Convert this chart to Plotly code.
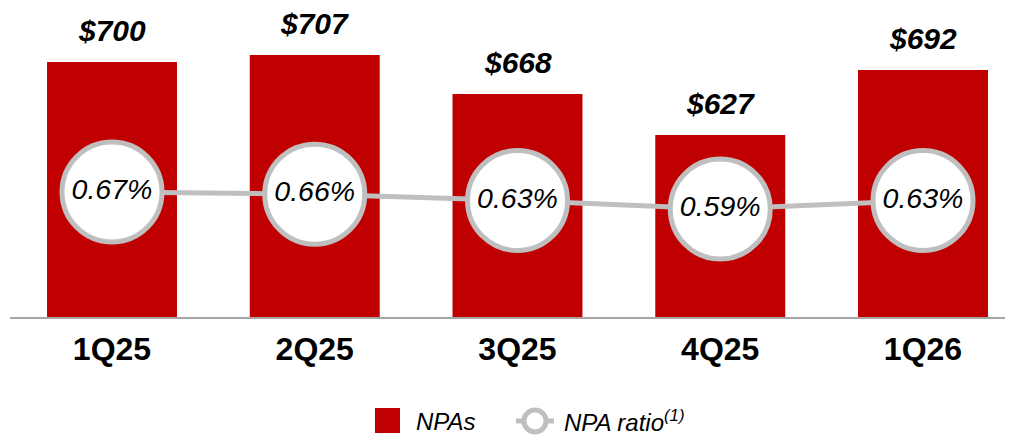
import plotly.graph_objects as go

quarters = ["1Q25", "2Q25", "3Q25", "4Q25", "1Q26"]
npas = [700, 707, 668, 627, 692]
npa_ratio = [0.67, 0.66, 0.63, 0.59, 0.63]

RED = "#C00000"
GREY = "#BFBFBF"
FONT = "Arial, Liberation Sans, sans-serif"

# the page puts the figure 8px in from the top-left corner
OFF = 8
W, H = 1013, 435
L, R, T = 10 - OFF, 0, 10 - OFF
B = H - (317 - OFF)
pw, ph = W - L - R, H - T - B


def px(x):
    return (x - OFF - L) / pw


def py(y):
    return (H - B - (y - OFF)) / ph


fig = go.Figure()

fig.add_bar(
    x=quarters,
    y=npas,
    name="NPAs",
    marker=dict(color=RED, line=dict(width=0)),
    showlegend=False,
)

fig.add_scatter(
    x=quarters,
    y=npa_ratio,
    yaxis="y2",
    name="NPA ratio",
    mode="lines+markers+text",
    line=dict(color=GREY, width=5),
    marker=dict(size=100, color="white", line=dict(color=GREY, width=5)),
    text=[f"{v:.2f}%" for v in npa_ratio],
    textposition="middle center",
    textfont=dict(family=FONT, size=28.5, color="black", style="italic"),
    cliponaxis=False,
    showlegend=False,
)

annotations = [
    dict(
        x=q, y=v, xref="x", yref="y",
        text=f"${v}",
        showarrow=False,
        yanchor="middle",
        yshift=32,
        font=dict(family=FONT, size=30, color="black", weight="bold", style="italic"),
    )
    for q, v in zip(quarters, npas)
]

# custom legend
annotations += [
    dict(x=px(414), y=py(421), xref="paper", yref="paper", text="NPAs", showarrow=False,
         xanchor="left", yanchor="middle",
         font=dict(family=FONT, size=24, color="black", style="italic")),
    dict(x=px(562), y=py(421), xref="paper", yref="paper", text="NPA ratio<sup>(1)</sup>",
         showarrow=False, xanchor="left", yanchor="middle",
         font=dict(family=FONT, size=24, color="black", style="italic")),
]

shapes = [
    dict(type="rect", xref="paper", yref="paper",
         x0=px(375), x1=px(400), y0=py(433), y1=py(408),
         fillcolor=RED, line=dict(width=0)),
    dict(type="line", xref="paper", yref="paper",
         x0=px(516), x1=px(554), y0=py(421), y1=py(421),
         line=dict(color=GREY, width=5)),
    dict(type="circle", xref="paper", yref="paper",
         x0=px(524), x1=px(546), y0=py(432), y1=py(410),
         fillcolor="white", line=dict(color=GREY, width=5)),
]

step = 202.75
c0 = 112 - OFF - L  # first category centre within plot area
ratio_px = 212.5    # pixels per percentage point
ratio_lo = 0.67 - 125 / ratio_px
fig.update_layout(
    width=W,
    height=H,
    margin=dict(l=L, r=R, t=T, b=B),
    paper_bgcolor="white",
    plot_bgcolor="white",
    bargap=0.359,
    showlegend=False,
    annotations=annotations,
    shapes=shapes,
    xaxis=dict(
        range=[-c0 / step, -c0 / step + pw / step],
        showgrid=False,
        showline=True,
        linecolor="#A6A6A6",
        linewidth=2,
        ticks="",
        tickfont=dict(family=FONT, size=32, color="black", weight="bold"),
        ticklabelstandoff=3,
    ),
    yaxis=dict(range=[445, 445 + ph], visible=False, showgrid=False),
    yaxis2=dict(
        range=[ratio_lo, ratio_lo + ph / ratio_px],
        overlaying="y",
        visible=False,
        showgrid=False,
    ),
)

fig.write_html("out.html")
